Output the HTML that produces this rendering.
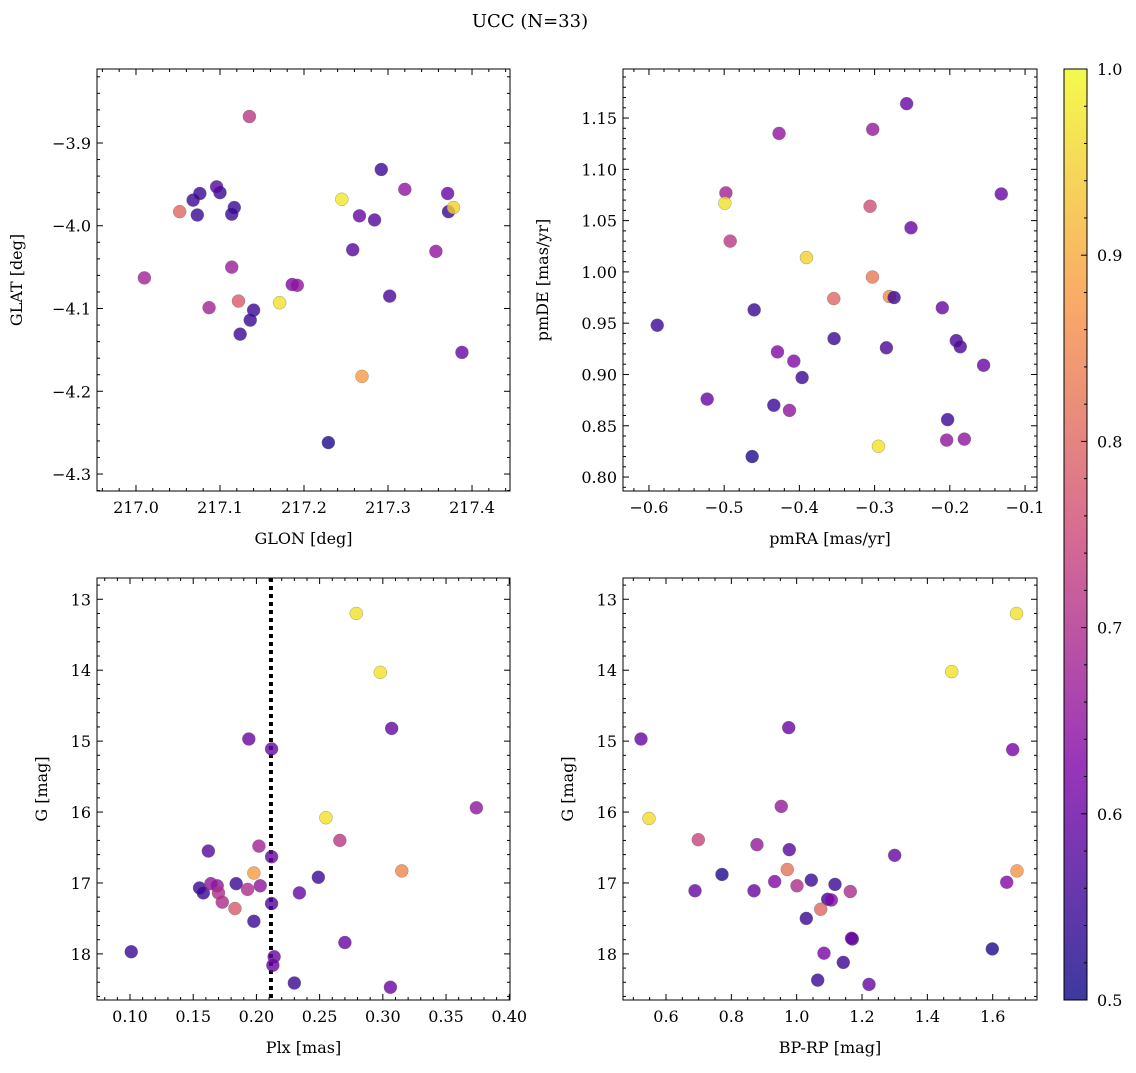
<!DOCTYPE html>
<html><head><meta charset="utf-8">
<style>
html,body{margin:0;padding:0;background:#fff;}
svg text{font-family:"DejaVu Serif","Liberation Serif",serif;fill:#000;}
</style></head>
<body>
<svg id="fig" width="1136" height="1068" viewBox="0 0 1136 1068" xmlns="http://www.w3.org/2000/svg">
<text x="530" y="27" font-size="18" text-anchor="middle">UCC (N=33)</text>
</svg>
<script>
// Panel 1: GLON vs GLAT
const glon = [217.135,217.117,217.100,217.068,217.076,217.096,217.114,217.052,217.073,217.010,217.114,217.087,217.122,217.140,217.136,217.124,217.171,217.186,217.192,217.245,217.292,217.320,217.266,217.284,217.258,217.302,217.269,217.229,217.371,217.372,217.378,217.357,217.388];
const glat = [-3.868,-3.978,-3.960,-3.969,-3.961,-3.953,-3.986,-3.983,-3.987,-4.063,-4.050,-4.099,-4.091,-4.102,-4.114,-4.131,-4.093,-4.071,-4.072,-3.968,-3.932,-3.956,-3.988,-3.993,-4.029,-4.085,-4.182,-4.262,-3.961,-3.983,-3.978,-4.031,-4.153];
const prob1 = [0.72,0.55,0.55,0.55,0.55,0.58,0.55,0.8,0.55,0.68,0.67,0.68,0.78,0.55,0.55,0.55,0.97,0.63,0.65,0.98,0.55,0.65,0.6,0.58,0.58,0.57,0.88,0.52,0.6,0.55,0.95,0.65,0.6];
// Panel 2: pmRA vs pmDE
const pmra = [-0.589,-0.5226,-0.4977,-0.4991,-0.492,-0.427,-0.4601,-0.4628,-0.4291,-0.434,-0.4074,-0.4132,-0.3964,-0.3906,-0.3543,-0.3539,-0.3025,-0.2574,-0.306,-0.3029,-0.2803,-0.2741,-0.2843,-0.2949,-0.2516,-0.21,-0.1914,-0.1861,-0.1551,-0.2029,-0.2042,-0.1807,-0.1316];
const pmde = [0.948,0.876,1.077,1.067,1.030,1.135,0.963,0.820,0.922,0.870,0.913,0.865,0.897,1.014,0.974,0.935,1.139,1.164,1.064,0.995,0.976,0.975,0.926,0.830,1.043,0.965,0.933,0.927,0.909,0.856,0.836,0.837,1.076];
const prob2 = [0.55,0.6,0.68,0.97,0.72,0.65,0.55,0.52,0.63,0.55,0.63,0.65,0.55,0.95,0.8,0.55,0.66,0.6,0.76,0.83,0.86,0.55,0.57,0.97,0.6,0.6,0.57,0.57,0.6,0.55,0.65,0.65,0.6];
// Panel 3: Plx vs G
const plx = [0.279,0.298,0.307,0.194,0.212,0.374,0.255,0.266,0.315,0.162,0.202,0.212,0.249,0.234,0.198,0.155,0.158,0.164,0.169,0.170,0.173,0.184,0.193,0.183,0.212,0.198,0.203,0.214,0.213,0.270,0.101,0.230,0.306];
const gmag = [13.20,14.03,14.82,14.97,15.11,15.94,16.08,16.40,16.83,16.55,16.48,16.63,16.92,17.14,16.86,17.07,17.14,17.01,17.04,17.14,17.27,17.01,17.09,17.36,17.29,17.54,17.04,18.04,18.16,17.84,17.97,18.41,18.47];
const prob3 = [0.97,0.97,0.6,0.6,0.6,0.65,0.97,0.72,0.85,0.58,0.68,0.6,0.55,0.6,0.88,0.55,0.55,0.65,0.65,0.7,0.7,0.55,0.7,0.78,0.58,0.55,0.65,0.6,0.6,0.6,0.55,0.55,0.6];
// Panel 4: BP-RP vs G
const bprp = [1.673,1.4745,0.9756,0.5235,1.6612,0.9529,0.548,0.6989,0.8785,0.9774,1.300,0.9713,1.6744,0.7714,0.9327,1.0448,1.1173,1.001,1.643,0.6888,0.8694,1.1641,1.0949,1.106,1.0735,1.0294,1.1703,1.168,1.0836,1.5988,1.1427,1.0643,1.2214];
const gmag4 = [13.20,14.02,14.81,14.97,15.12,15.92,16.09,16.39,16.46,16.53,16.61,16.81,16.83,16.88,16.98,16.96,17.02,17.04,16.99,17.11,17.11,17.12,17.23,17.24,17.37,17.50,17.79,17.78,17.99,17.93,18.12,18.37,18.43];
const prob4 = [0.97,0.97,0.6,0.6,0.62,0.66,0.96,0.74,0.66,0.58,0.6,0.82,0.87,0.52,0.63,0.55,0.55,0.7,0.63,0.6,0.6,0.7,0.55,0.63,0.8,0.55,0.58,0.6,0.62,0.52,0.55,0.55,0.6];
const cbTicks = [0.5,0.6,0.7,0.8,0.9,1.0];

const NS='http://www.w3.org/2000/svg';
const svg=document.getElementById('fig');
function mk(tag,attrs,parent){const e=document.createElementNS(NS,tag);for(const k in attrs)e.setAttribute(k,attrs[k]);(parent||svg).appendChild(e);return e;}
const stops=[[0,[13,8,135]],[0.25,[126,3,168]],[0.5,[204,71,120]],[0.75,[248,149,64]],[1,[240,249,33]]];
function plasma(t){t=Math.max(0,Math.min(1,t));for(let i=1;i<stops.length;i++){if(t<=stops[i][0]){const a=stops[i-1],b=stops[i];const f=(t-a[0])/(b[0]-a[0]);const c=a[1].map((v,j)=>Math.round(v+(b[1][j]-v)*f));return 'rgb('+c.join(',')+')';}}return 'rgb(240,249,33)';}
function cnorm(p){return (p-0.5)/0.5;}
function fmtMinus(s){return s.replace('-','\u2212');}

function panel(name,box,xr,yr,xMaj,xMin,xDec,yMaj,yMin,yDec,xlab,ylab,xs,ys,cs,invertY,vline){
  const [L,T,R,B]=box;
  const g=mk('g',{});
  
  
  const sx=v=>L+(v-xr[0])/(xr[1]-xr[0])*(R-L);
  const sy=invertY?(v=>T+(v-yr[0])/(yr[1]-yr[0])*(B-T)):(v=>B-(v-yr[0])/(yr[1]-yr[0])*(B-T));
  if(vline!==undefined){
    const vl=mk('line',{x1:sx(vline),x2:sx(vline),y1:T,y2:B,stroke:'#000','stroke-width':4,'stroke-dasharray':'4,4'},g);
    
    
  }
  for(let i=0;i<xs.length;i++){
    const c=mk('circle',{cx:sx(xs[i]),cy:sy(ys[i]),r:6.5,fill:plasma(cnorm(cs[i])),'fill-opacity':0.8,stroke:'#666','stroke-width':0.5,'stroke-opacity':0.6},g);
    
    
  }
  const fr=mk('rect',{x:L,y:T,width:R-L,height:B-T,fill:'none',stroke:'#000','stroke-width':1},g);
  
  
  const eps=1e-9;
  const x0=Math.ceil(xr[0]/xMin-eps)*xMin;
  for(let v=x0;v<=xr[1]+eps;v+=xMin){
    const X=sx(v);const isMaj=Math.abs(v/xMaj-Math.round(v/xMaj))<1e-6;const len=isMaj?6:3;
    mk('line',{x1:X,x2:X,y1:B,y2:B-len,stroke:'#000','stroke-width':1},g);
    mk('line',{x1:X,x2:X,y1:T,y2:T+len,stroke:'#000','stroke-width':1},g);
    if(isMaj){const t=mk('text',{x:X,y:B+22,'font-size':16,'text-anchor':'middle'},g);t.textContent=fmtMinus((Math.round(v/xMaj)*xMaj).toFixed(xDec));
      }
  }
  const y0=Math.ceil(Math.min(yr[0],yr[1])/yMin-eps)*yMin;
  for(let v=y0;v<=Math.max(yr[0],yr[1])+eps;v+=yMin){
    const Y=sy(v);const isMaj=Math.abs(v/yMaj-Math.round(v/yMaj))<1e-6;const len=isMaj?6:3;
    mk('line',{x1:L,x2:L+len,y1:Y,y2:Y,stroke:'#000','stroke-width':1},g);
    mk('line',{x1:R,x2:R-len,y1:Y,y2:Y,stroke:'#000','stroke-width':1},g);
    if(isMaj){const t=mk('text',{x:L-6,y:Y+6,'font-size':16,'text-anchor':'end'},g);t.textContent=fmtMinus((Math.round(v/yMaj)*yMaj).toFixed(yDec));
      }
  }
  const xl=mk('text',{x:(L+R)/2,y:B+53,'font-size':16,'text-anchor':'middle'},g);xl.textContent=xlab;
  
  const yx=name==='panel-glon-glat'||name==='panel-pmra-pmde'?L-75:L-50;
  const yl=mk('text',{x:yx,y:(T+B)/2,'font-size':16,'text-anchor':'middle',transform:`rotate(-90 ${yx} ${(T+B)/2})`},g);yl.textContent=ylab;
  
}
panel('panel-glon-glat',[97,69,510,491],[216.9536,217.4452],[-4.3205,-3.8106],0.1,0.02,1,0.1,0.02,1,'GLON [deg]','GLAT [deg]',glon,glat,prob1,false);
panel('panel-pmra-pmde',[623,69,1037,491],[-0.6345,-0.0841],[0.7864,1.1978],0.1,0.02,1,0.05,0.01,2,'pmRA [mas/yr]','pmDE [mas/yr]',pmra,pmde,prob2,false);
panel('panel-plx-g',[97,578,510,1000],[0.0739,0.4006],[12.70,18.65],0.05,0.01,2,1,0.2,0,'Plx [mas]','G [mag]',plx,gmag,prob3,true,0.2115);
panel('panel-bprp-g',[623,578,1037,1000],[0.4684,1.7356],[12.70,18.65],0.2,0.05,1,1,0.2,0,'BP-RP [mag]','G [mag]',bprp,gmag4,prob4,true);

const cb=mk('g',{});


const defs=mk('defs',{},cb);
const lg=mk('linearGradient',{id:'pg',x1:0,y1:1,x2:0,y2:0},defs);
for(let i=0;i<=20;i++){mk('stop',{offset:i/20,'stop-color':plasma(i/20),'stop-opacity':0.8},lg);}
const CL=1064,CR=1087,CT=69,CB=1000;
mk('rect',{x:CL,y:CT,width:CR-CL,height:CB-CT,fill:'url(#pg)',stroke:'#000','stroke-width':1},cb);
const cy=v=>CB-(v-0.5)/0.5*(CB-CT);
for(let v=0.5;v<=1.0001;v+=0.02){const Y=cy(v);const isMaj=Math.abs(v*10-Math.round(v*10))<1e-6;
  mk('line',{x1:CR,x2:CR-(isMaj?6:3),y1:Y,y2:Y,stroke:'#000','stroke-width':1},cb);}
cbTicks.forEach(v=>{const t=mk('text',{x:CR+10,y:cy(v)+6,'font-size':16},cb);t.textContent=v.toFixed(1);
  });
</script>
</body></html>
